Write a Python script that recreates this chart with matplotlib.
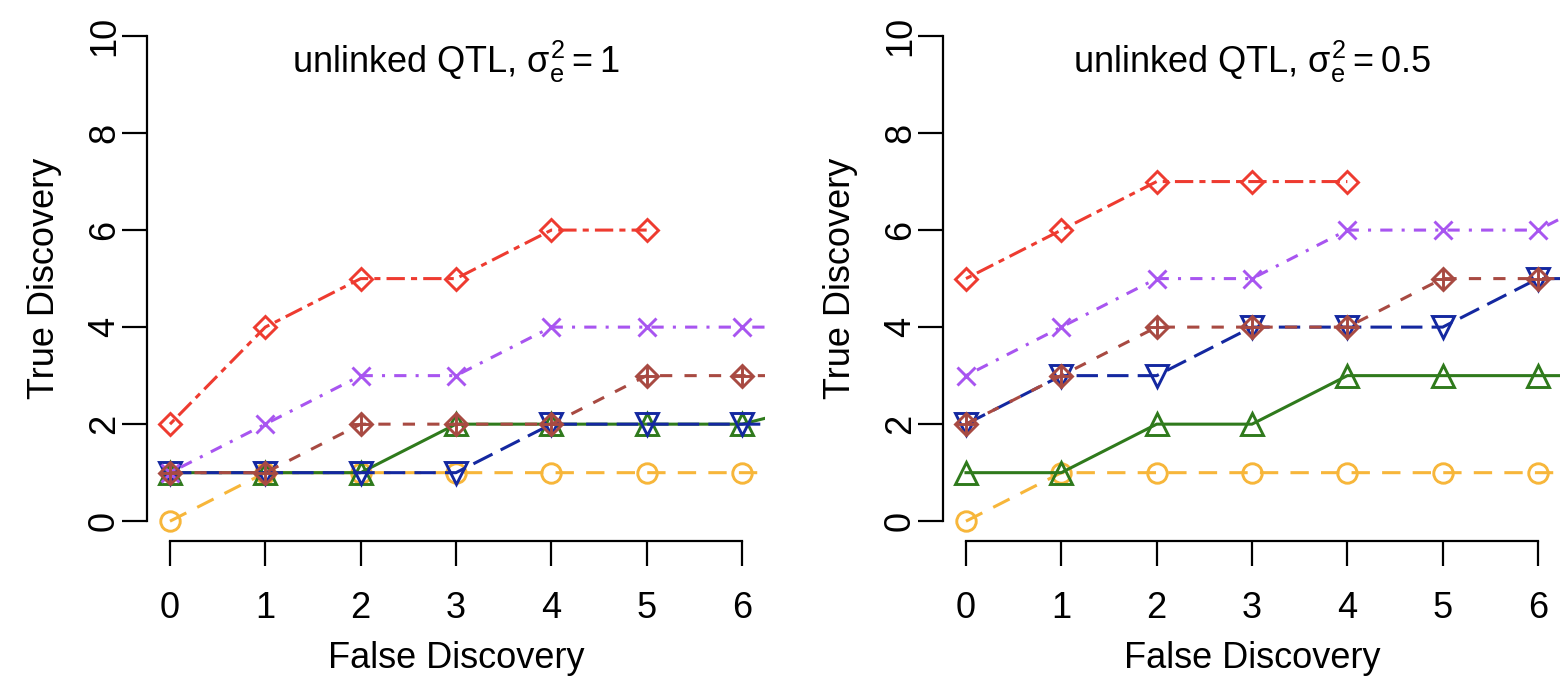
import matplotlib
matplotlib.use("Agg")
import matplotlib.pyplot as plt

plt.rcParams['font.family'] = ['Liberation Sans', 'DejaVu Sans']
plt.rcParams['mathtext.fontset'] = 'custom'
plt.rcParams['mathtext.rm'] = 'Liberation Sans'
plt.rcParams['mathtext.it'] = 'Liberation Sans'
plt.rcParams['mathtext.sf'] = 'Liberation Sans'

# false discovery counts (x) and true discovery counts (y) per method
x_full = [0, 1, 2, 3, 4, 5, 6, 7]

# left panel: sigma_e^2 = 1
red_left_x = [0, 1, 2, 3, 4, 5]
red_left = [2, 4, 5, 5, 6, 6]
purple_left = [1, 2, 3, 3, 4, 4, 4, 4]
brown_left = [1, 1, 2, 2, 2, 3, 3, 3]
green_left_x = [0, 1, 2, 3, 4, 5, 6, 8]
green_left = [1, 1, 1, 2, 2, 2, 2, 3]
blue_left = [1, 1, 1, 1, 2, 2, 2, 2]
orange_left = [0, 1, 1, 1, 1, 1, 1, 1]

# right panel: sigma_e^2 = 0.5
red_right_x = [0, 1, 2, 3, 4]
red_right = [5, 6, 7, 7, 7]
purple_right = [3, 4, 5, 5, 6, 6, 6, 7]
brown_right = [2, 3, 4, 4, 4, 5, 5, 5]
blue_right = [2, 3, 3, 4, 4, 4, 5, 5]
green_right = [1, 1, 2, 2, 3, 3, 3, 3]
orange_right = [0, 1, 1, 1, 1, 1, 1, 1]

titles = [r'unlinked QTL, $\sigma_{\mathrm{e}}^{2} = 1$',
          r'unlinked QTL, $\sigma_{\mathrm{e}}^{2} = 0.5$']

c_red = '#EE3B30'
c_purple = '#A855F0'
c_brown = '#A84A42'
c_green = '#2F7A1C'
c_blue = '#1428A0'
c_orange = '#F7B63A'

LW = 2.2
MEW = 2.1
FS = 26


def draw_panel(ax, series, title):
    # series: list of (x, y, color, marker, ms, dashes)
    for x, y, col, mk, ms, dashes in series:
        plus = mk == 'D+'
        line, = ax.plot(x, y, color=col, lw=LW, marker='D' if plus else mk,
                        ms=ms, mfc='none', mec=col, mew=MEW)
        if dashes is not None:
            line.set_dashes(dashes)
        if plus:
            # R pch 9: diamond with a plus inside
            ax.plot(x, y, ls='none', marker='+', ms=ms * 1.414,
                    mec=col, mew=MEW)
    ax.set_xlim(-0.24, 6.24)
    ax.set_ylim(-0.4, 10.4)
    ax.set_xticks(range(0, 7))
    ax.set_yticks(range(0, 11, 2))
    for s in ['top', 'right']:
        ax.spines[s].set_visible(False)
    ax.spines['left'].set_bounds(0, 10)
    ax.spines['bottom'].set_bounds(0, 6)
    ax.spines['left'].set_linewidth(1.6)
    ax.spines['bottom'].set_linewidth(1.6)
    ax.tick_params(direction='out', length=18, width=1.6, labelsize=FS)
    ax.tick_params(axis='x', pad=18)
    ax.tick_params(axis='y', pad=0, labelrotation=90)
    for lab in ax.get_yticklabels():
        lab.set_va('center')
    ax.set_xlabel('False Discovery', fontsize=FS, labelpad=11)
    ax.set_ylabel('True Discovery', fontsize=FS, labelpad=18)
    ax.text(0.5, 0.892, title, transform=ax.transAxes, ha='center',
            va='baseline', fontsize=FS)


fig = plt.figure(figsize=(15.6, 6.85), dpi=100)
ax1 = fig.add_axes([147.1 / 1560, 1 - 540.6 / 685, 617.8 / 1560, 524 / 685])
ax2 = fig.add_axes([943.1 / 1560, 1 - 540.6 / 685, 617.8 / 1560, 524 / 685])

left = [
    (x_full, orange_left, c_orange, 'o', 14, (6, 4)),
    (green_left_x, green_left, c_green, '^', 15.5, None),
    (x_full, blue_left, c_blue, 'v', 15.5, (7, 3)),
    (x_full, purple_left, c_purple, 'x', 13.5, (1, 3, 4, 3)),
    (x_full, brown_left, c_brown, 'D+', 11.5, (4, 4)),
    (red_left_x, red_left, c_red, 'D', 11.5, (2, 2, 6, 2)),
]
right = [
    (x_full, orange_right, c_orange, 'o', 14, (6, 4)),
    (x_full, green_right, c_green, '^', 15.5, None),
    (x_full, blue_right, c_blue, 'v', 15.5, (7, 3)),
    (x_full, purple_right, c_purple, 'x', 13.5, (1, 3, 4, 3)),
    (x_full, brown_right, c_brown, 'D+', 11.5, (4, 4)),
    (red_right_x, red_right, c_red, 'D', 11.5, (2, 2, 6, 2)),
]

draw_panel(ax1, left, titles[0])
draw_panel(ax2, right, titles[1])

fig.savefig('out.png', dpi=100)
